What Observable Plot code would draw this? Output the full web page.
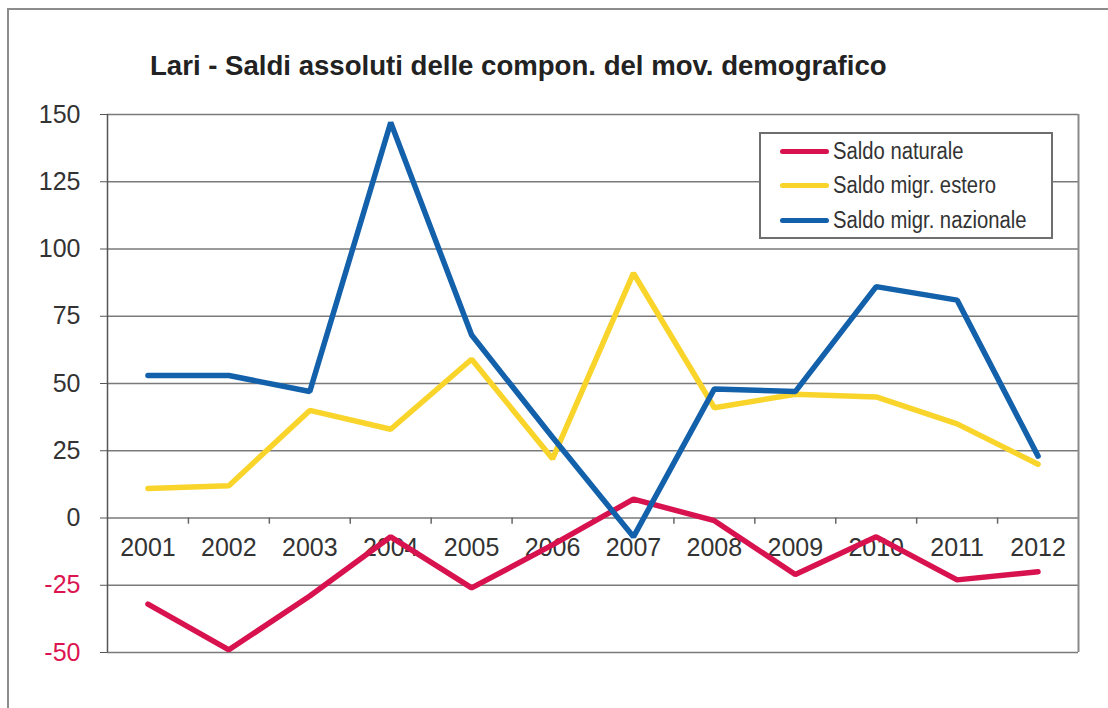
<!DOCTYPE html>
<html>
<head>
<meta charset="utf-8">
<script src="https://cdn.jsdelivr.net/npm/d3@7"></script>
<script src="https://cdn.jsdelivr.net/npm/@observablehq/plot@0.6"></script>
<style>
  html, body { margin: 0; padding: 0; background: #fff; }
  #wrap { position: relative; width: 1108px; height: 708px; overflow: hidden; font-family: "Liberation Sans Narrow", "Arial Narrow", "Liberation Sans", Arial, sans-serif; }
  #outer { position: absolute; left: 7px; top: 8px; width: 1200px; height: 800px; border-left: 2px solid #8c8c8c; border-top: 2px solid #8c8c8c; }
  #title { position: absolute; left: 150px; top: 50px; font-size: 28px; font-weight: bold; color: #222; white-space: nowrap; transform: scaleX(0.985); transform-origin: left center; }
  #legend { position: absolute; left: 759px; top: 132px; width: 290px; height: 103px; border: 2px solid #6e6e6e; background: #fff; }
  .row { position: absolute; left: 19px; height: 30px; display: flex; align-items: center; font-size: 23px; color: #333; white-space: nowrap; }
  .sw { width: 49px; height: 5px; border-radius: 3px; margin-right: 4px; flex: none; }
  .lt { display: inline-block; transform: scaleX(0.88); transform-origin: left center; }
  svg { position: absolute; left: 0; top: 0; }
</style>
</head>
<body>
<div id="wrap">
  <div id="outer"></div>
  <div id="chart"></div>
  <div id="title"></div>
  <div id="legend"></div>
</div>
<script>
const years = [2001, 2002, 2003, 2004, 2005, 2006, 2007, 2008, 2009, 2010, 2011, 2012];
const saldoNaturale = [-32, -49, -29, -7, -26, -10, 7, -1, -21, -7, -23, -20];
const saldoEstero = [11, 12, 40, 33, 59, 22, 91, 41, 46, 45, 35, 20];
const saldoNazionale = [53, 53, 47, 147, 68, 30, -7, 48, 47, 86, 81, 23];
const seriesNames = ["Saldo naturale", "Saldo migr. estero", "Saldo migr. nazionale"];
const seriesColors = ["#d8124e", "#f9d42a", "#1360ab"];
const yTicksPos = [0, 25, 50, 75, 100, 125, 150];
const yTicksNeg = [-25, -50];
const titleText = "Lari - Saldi assoluti delle compon. del mov. demografico";

const seriesValues = [saldoNaturale, saldoEstero, saldoNazionale];
const rows = [];
seriesNames.forEach((name, i) => {
  years.forEach((yr, j) => rows.push({series: name, year: yr, value: seriesValues[i][j]}));
});
const boundaries = years.map(y => y - 0.5).concat([years[years.length - 1] + 0.5]);
const allTicks = yTicksNeg.concat(yTicksPos);

const font = '"Liberation Sans Narrow", "Arial Narrow", "Liberation Sans", Arial, sans-serif';
const fmt = d => String(d);

const marks = [
  Plot.gridY(allTicks, {stroke: "#7a7a7a", strokeOpacity: 1, strokeWidth: 1.5}),
  Plot.ruleX(boundaries.slice(1, -1), {y1: 0, y2: -2.3, stroke: "#666", strokeWidth: 1.5}),
  Plot.ruleX([years[0] - 0.5], {stroke: "#555", strokeWidth: 1.5}),
  Plot.ruleX([years[years.length - 1] + 0.5], {stroke: "#8a8a8a", strokeWidth: 2}),
  Plot.axisY(yTicksPos, {tickSize: 7, tickPadding: 20, fontSize: 25, fill: "#333", stroke: "#555", tickFormat: fmt, label: null}),
  Plot.axisY(yTicksNeg, {tickSize: 7, tickPadding: 20, fontSize: 25, fill: "#dc1450", stroke: "#555", tickFormat: fmt, label: null}),
  Plot.text(years, {x: d => d, y: 0, dy: 30, text: d => String(d), fontSize: 25, fill: "#333"})
];
seriesNames.forEach((name, i) => {
  marks.push(Plot.line(rows.filter(r => r.series === name), {
    x: "year", y: "value", stroke: seriesColors[i], strokeWidth: 5.5, strokeLinejoin: "miter", strokeLinecap: "round"
  }));
});

const chart = Plot.plot({
  width: 1108,
  height: 708,
  marginLeft: 107,
  marginRight: 30,
  marginTop: 114,
  marginBottom: 56,
  style: {fontFamily: font, background: "transparent"},
  x: {domain: [years[0] - 0.5, years[years.length - 1] + 0.5], axis: null},
  y: {domain: [-50, 150], axis: null},
  marks
});
document.getElementById("chart").appendChild(chart);
document.getElementById("title").textContent = titleText;

const legend = document.getElementById("legend");
seriesNames.forEach((name, i) => {
  const row = document.createElement("div");
  row.className = "row";
  row.style.top = (2 + i * 34.5) + "px";
  const sw = document.createElement("div");
  sw.className = "sw";
  sw.style.background = seriesColors[i];
  const t = document.createElement("span");
  t.className = "lt";
  t.textContent = name;
  row.appendChild(sw);
  row.appendChild(t);
  legend.appendChild(row);
});
</script>
</body>
</html>
